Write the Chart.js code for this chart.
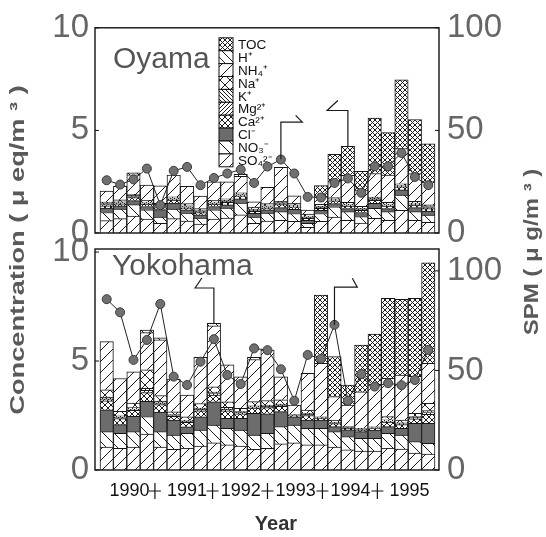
<!DOCTYPE html>
<html>
<head>
<meta charset="utf-8">
<script src="https://cdn.jsdelivr.net/npm/chart.js@4.4.1/dist/chart.umd.min.js"></script>
<style>
  html, body { margin: 0; padding: 0; background: #fff; }
  #wrap { position: relative; width: 546px; height: 537px; }
  #wrap canvas { position: absolute; left: 0; top: 0; }
</style>
</head>
<body>
<div id="wrap">
  <canvas id="oyama" width="546" height="537"></canvas>
  <canvas id="yokohama" width="546" height="537"></canvas>
</div>
<script>
// ion components, bottom of the stack first (ueq/m3)
const ionNames = ["SO₄²⁻", "NO₃⁻", "Cl⁻", "Ca²⁺", "Mg²⁺", "K⁺", "Na⁺", "NH₄⁺", "H⁺", "TOC"];

// Oyama samples
const oyamaSO4 = [0.60, 0.70, 0.83, 0.68, 0.47, 0.70, 0.58, 0.44, 0.68, 0.73, 0.88, 0.47, 0.58, 0.62, 0.57, 0.28, 0.57, 0.77, 0.62, 0.48, 0.72, 0.62, 1.11, 0.62, 0.52];
const oyamaNO3 = [0.40, 0.46, 0.55, 0.45, 0.31, 0.46, 0.39, 0.29, 0.45, 0.48, 0.58, 0.31, 0.39, 0.42, 0.38, 0.19, 0.38, 0.51, 0.42, 0.32, 0.48, 0.42, 0.74, 0.42, 0.35];
const oyamaCl = [0.21, 0.16, 0.20, 0.16, 0.36, 0.30, 0.16, 0.16, 0.16, 0.16, 0.20, 0.18, 0.16, 0.20, 0.20, 0.15, 0.15, 0.15, 0.15, 0.20, 0.25, 0.15, 0.25, 0.20, 0.20];
const oyamaCa = [0.12, 0.10, 0.15, 0.12, 0.10, 0.14, 0.10, 0.10, 0.12, 0.12, 0.15, 0.10, 0.10, 0.14, 0.12, 0.10, 0.10, 0.14, 0.12, 0.10, 0.14, 0.12, 0.15, 0.12, 0.12];
const oyamaMg = [0.05, 0.05, 0.05, 0.05, 0.05, 0.05, 0.05, 0.05, 0.05, 0.05, 0.05, 0.05, 0.05, 0.05, 0.05, 0.05, 0.05, 0.05, 0.05, 0.05, 0.05, 0.05, 0.05, 0.05, 0.05];
const oyamaK = [0.05, 0.05, 0.05, 0.05, 0.05, 0.05, 0.05, 0.05, 0.05, 0.05, 0.05, 0.05, 0.05, 0.05, 0.05, 0.05, 0.05, 0.05, 0.05, 0.05, 0.05, 0.05, 0.05, 0.05, 0.05];
const oyamaNa = [0.08, 0.10, 0.05, 0.08, 0.10, 0.06, 0.10, 0.10, 0.08, 0.08, 0.05, 0.10, 0.10, 0.06, 0.08, 0.10, 0.10, 0.06, 0.08, 0.10, 0.06, 0.08, 0.05, 0.08, 0.08];
const oyamaNH4 = [0.53, 0.66, 0.95, 0.74, 0.86, 1.06, 0.85, 0.61, 0.90, 0.82, 0.80, 0.26, 0.80, 1.66, 0.36, 0.20, 0.36, 0.77, 1.32, 0.79, 1.15, 1.33, 1.71, 1.35, 1.12];
const oyamaH = [0, 0, 0.10, 0, 0, 0, 0, 0, 0, 0, 0.10, 0, 0, 0, 0, 0, 0, 0, 0, 0, 0, 0, 0, 0, 0];
const oyamaTOC = [0, 0, 0, 0, 0, 0, 0, 0, 0, 0, 0, 0, 0, 0, 0, 0, 0.55, 1.33, 1.41, 0.92, 2.70, 2.07, 3.35, 2.64, 1.86];
const oyamaSPM = [25.7, 23.6, 26.1, 31.4, 13.6, 30.3, 32.2, 23.3, 26.8, 29.0, 30.9, 24.4, 32.4, 35.8, 29.0, 17.6, 17.3, 24.4, 26.6, 19.6, 32.5, 32.5, 39.0, 27.3, 23.3];

// Yokohama samples
const yokohamaSO4 = [1.05, 1.00, 1.05, 1.65, 1.05, 0.95, 1.00, 1.10, 1.25, 1.15, 1.10, 0.95, 1.00, 1.20, 1.25, 1.15, 1.15, 1.05, 0.92, 0.87, 0.87, 1.00, 0.96, 0.78, 0.73];
const yokohamaNO3 = [0.71, 0.68, 0.71, 0.80, 0.71, 0.65, 0.68, 0.73, 0.81, 0.76, 0.73, 0.65, 0.68, 0.79, 0.81, 0.76, 0.76, 0.71, 0.61, 0.58, 0.58, 0.68, 0.64, 0.52, 0.49];
const yokohamaCl = [1.00, 0.40, 0.70, 0.70, 0.90, 0.69, 0.30, 0.61, 1.07, 0.46, 0.54, 1.00, 0.90, 0.69, 0.38, 0.38, 0.38, 0.23, 0.31, 0.31, 0.38, 0.31, 0.31, 0.84, 0.92];
const yokohamaCa = [0.41, 0.28, 0.28, 0.40, 0.34, 0.17, 0.21, 0.28, 0.31, 0.34, 0.21, 0.24, 0.28, 0.24, 0.05, 0.21, 0.07, 0.14, 0.07, 0.07, 0.07, 0.21, 0.17, 0.21, 0.41];
const yokohamaMg = [0.09, 0.06, 0.06, 0.10, 0.08, 0.04, 0.05, 0.06, 0.07, 0.08, 0.05, 0.05, 0.06, 0.05, 0.02, 0.05, 0.02, 0.03, 0.02, 0.02, 0.02, 0.05, 0.04, 0.05, 0.09];
const yokohamaK = [0.09, 0.06, 0.06, 0.10, 0.08, 0.04, 0.05, 0.06, 0.07, 0.08, 0.05, 0.05, 0.06, 0.05, 0.02, 0.05, 0.02, 0.03, 0.02, 0.02, 0.02, 0.05, 0.04, 0.05, 0.09];
const yokohamaNa = [0.33, 0.21, 0.21, 0.85, 0.26, 0.13, 0.15, 0.21, 0.24, 0.26, 0.15, 0.20, 0.21, 0.20, 0.01, 0.15, 0.04, 0.10, 0.04, 0.04, 0.04, 0.15, 0.13, 0.15, 0.33];
const yokohamaNH4 = [2.21, 1.51, 1.44, 1.70, 2.55, 1.50, 1.00, 2.12, 2.79, 1.69, 1.45, 1.93, 2.31, 1.06, 0.44, 1.68, 2.46, 1.08, 0.99, 1.68, 1.92, 1.76, 2.07, 1.70, 1.83];
const yokohamaH = [0, 0, 0, 0.12, 0.10, 0, 0, 0, 0.12, 0, 0, 0.10, 0, 0, 0, 0, 0, 0, 0, 0, 0, 0, 0, 0, 0];
const yokohamaTOC = [0, 0, 0, 0, 0, 0, 0, 0, 0, 0, 0, 0, 0, 0, 0, 0, 3.13, 1.83, 0.92, 2.14, 2.34, 3.67, 3.47, 3.58, 4.62];
const yokohamaSPM = [85.8, 79.2, 55.3, 65.3, 83.4, 46.9, 42.7, 54.4, 65.7, 47.7, 43.2, 61.1, 60.2, 50.6, 34.8, 57.8, 55.9, 72.9, 34.8, 48.2, 41.9, 43.6, 42.6, 45.2, 60.3];

// year labels along the sample sequence, and where each year ends
const yearLabels = ["1990", "1991", "1992", "1993", "1994", "1995"];
const yearCentres = [1.7, 6.0, 10.0, 14.1, 18.2, 22.6];
const yearBreaks = [3.6, 7.9, 12.0, 16.1, 20.2];

// event markers: sample, start and end level (ueq/m3), run and hook in sample units
const oyamaMarks = [
  { at: 13, from: 3.59, to: 5.4, run: 1.6, hook: [-0.5, 0.33] },
  { at: 18, from: 4.22, to: 5.97, run: -1.55, hook: [0.8, 0.49] }
];
const yokohamaMarks = [
  { at: 8, from: 6.73, to: 8.35, run: -1.4, hook: [0.5, 0.46] },
  { at: 17, from: 6.65, to: 8.39, run: 1.7, hook: [-0.37, 0.41] }
];

const samples = oyamaSO4.map((_, i) => i);
const FONT = '"Liberation Sans", Arial, Helvetica, sans-serif';
Chart.defaults.font.family = FONT;

// hatch fills
const ink = "#1c1c1c";
function tile(size, draw, bg) {
  const c = document.createElement("canvas");
  c.width = c.height = size;
  const g = c.getContext("2d");
  g.fillStyle = bg || "#fff";
  g.fillRect(0, 0, size, size);
  g.strokeStyle = ink;
  g.lineWidth = 1;
  draw(g, size);
  return g.createPattern(c, "repeat");
}
function slash(g, s) {
  g.beginPath();
  g.moveTo(-1, s + 1); g.lineTo(s + 1, -1);
  g.moveTo(-1, 1); g.lineTo(1, -1);
  g.moveTo(s - 1, s + 1); g.lineTo(s + 1, s - 1);
  g.stroke();
}
function backslash(g, s) {
  g.beginPath();
  g.moveTo(-1, -1); g.lineTo(s + 1, s + 1);
  g.moveTo(s - 1, -1); g.lineTo(s + 1, 1);
  g.moveTo(-1, s - 1); g.lineTo(1, s + 1);
  g.stroke();
}
function cross(g, s) { slash(g, s); backslash(g, s); }

const ionFills = [
  tile(11, slash),              // SO4
  tile(11, backslash),          // NO3
  "#6c6c6c",                    // Cl
  tile(6, cross),               // Ca
  tile(4, slash),               // Mg
  tile(4, backslash),           // K
  tile(10, cross),              // Na
  tile(11, slash),              // NH4
  tile(9, backslash),           // H
  tile(5, cross)                // TOC
];

function barSets(series) {
  return series.map((data, k) => ({
    type: "bar",
    label: ionNames[k],
    data,
    backgroundColor: ionFills[k],
    borderColor: "#161616",
    borderWidth: 1,
    barPercentage: 1,
    categoryPercentage: 1,
    stack: "ions",
    yAxisID: "y",
    order: 1
  }));
}

function spmSet(data) {
  return {
    type: "line",
    label: "SPM",
    data,
    yAxisID: "y1",
    borderColor: "#222",
    borderWidth: 1,
    pointRadius: 4.5,
    pointBackgroundColor: "#707070",
    pointBorderColor: "#3c3c3c",
    pointBorderWidth: 1,
    tension: 0,
    order: 0
  };
}

const tickFont = { family: FONT, size: 33 };

// frame, markers, site name, legend and outer titles
const panelPlugin = {
  id: "panel",
  afterDatasetsDraw(chart, args, opts) {
    const { ctx, chartArea: a, scales } = chart;
    const x = scales.x, y = scales.y, y1 = scales.y1;
    ctx.save();

    ctx.strokeStyle = "#111";
    ctx.lineWidth = 1.4;
    ctx.strokeRect(a.left, a.top, a.right - a.left, a.bottom - a.top);
    ctx.lineWidth = 1;
    y.ticks.forEach(t => {
      const py = y.getPixelForValue(t.value);
      ctx.beginPath(); ctx.moveTo(a.left, py); ctx.lineTo(a.left + 4, py); ctx.stroke();
    });
    y1.ticks.forEach(t => {
      const py = y1.getPixelForValue(t.value);
      ctx.beginPath(); ctx.moveTo(a.right, py); ctx.lineTo(a.right - 4, py); ctx.stroke();
    });

    // event markers
    ctx.strokeStyle = "#1a1a1a";
    ctx.lineWidth = 1.2;
    (opts.marks || []).forEach(m => {
      const px = x.getPixelForValue(m.at);
      const top = y.getPixelForValue(m.to);
      ctx.beginPath();
      ctx.moveTo(px, y.getPixelForValue(m.from));
      ctx.lineTo(px, top);
      ctx.lineTo(x.getPixelForValue(m.at + m.run), top);
      ctx.lineTo(x.getPixelForValue(m.at + m.run + m.hook[0]), y.getPixelForValue(m.to + m.hook[1]));
      ctx.stroke();
    });

    // site name
    ctx.fillStyle = "#555";
    ctx.font = "30px " + FONT;
    ctx.textAlign = "left";
    ctx.textBaseline = "alphabetic";
    ctx.fillText(opts.site, a.left + opts.siteAt[0], a.top + opts.siteAt[1]);

    // legend column, TOC on top
    if (opts.legend) {
      const lx = a.left + 124, ly = a.top + 10, w = 14, h = 12.9;
      const sets = chart.data.datasets.filter(d => d.type === "bar").slice().reverse();
      ctx.font = "13.5px " + FONT;
      ctx.textBaseline = "middle";
      sets.forEach((d, k) => {
        const ty = ly + k * h;
        ctx.fillStyle = d.backgroundColor;
        ctx.fillRect(lx, ty, w, h);
        ctx.strokeStyle = "#111";
        ctx.lineWidth = 1;
        ctx.strokeRect(lx, ty, w, h);
        ctx.fillStyle = "#111";
        ctx.fillText(d.label, lx + w + 5, ty + h / 2 + 1);
      });
    }

    // shared axis titles and year labels
    if (opts.titles) {
      ctx.fillStyle = "#111";
      ctx.font = "18px " + FONT;
      ctx.textAlign = "center";
      ctx.textBaseline = "middle";
      const ly = a.bottom + 21;
      yearLabels.forEach((t, k) => ctx.fillText(t, x.getPixelForValue(yearCentres[k]), ly));
      ctx.strokeStyle = "#111";
      ctx.lineWidth = 1.2;
      yearBreaks.forEach(b => {
        const px = x.getPixelForValue(b);
        ctx.beginPath();
        ctx.moveTo(px, ly - 8); ctx.lineTo(px, ly + 8);
        ctx.moveTo(px - 6, ly); ctx.lineTo(px + 6, ly);
        ctx.stroke();
      });

      ctx.fillStyle = "#333";
      ctx.font = "bold 20px " + FONT;
      ctx.fillText("Year", (a.left + a.right) / 2 + 9, a.bottom + 54);

      ctx.fillStyle = "#5a5a5a";
      ctx.save();
      ctx.translate(18, 250);
      ctx.rotate(-Math.PI / 2);
      ctx.scale(1.36, 1);
      ctx.fillText("Concentration ( μ eq/m ³ )", 0, 0);
      ctx.restore();

      ctx.save();
      ctx.translate(532, 252);
      ctx.rotate(-Math.PI / 2);
      ctx.scale(1.2, 1);
      ctx.fillText("SPM ( μ g/m ³ )", 0, 0);
      ctx.restore();
    }
    ctx.restore();
  }
};

function panel(canvasId, series, spm, bounds, plug) {
  return new Chart(document.getElementById(canvasId), {
    data: { labels: samples, datasets: [...barSets(series), spmSet(spm)] },
    options: {
      responsive: false,
      devicePixelRatio: 1,
      animation: false,
      events: [],
      layout: { padding: { top: bounds.top, bottom: 537 - bounds.bottom, left: 0, right: 0 } },
      scales: {
        x: {
          type: "linear", display: false, offset: false, stacked: true,
          min: -0.873, max: 24.8
        },
        y: {
          type: "linear", position: "left", stacked: true, min: 0, max: bounds.yMax,
          afterBuildTicks: s => { s.ticks = [0, 5, 10].map(v => ({ value: v })); },
          afterFit: s => { s.width = 95; },
          grid: { display: false, drawTicks: false }, border: { display: false },
          ticks: { font: tickFont, color: "#666", padding: 6 }
        },
        y1: {
          type: "linear", position: "right", min: 0, max: bounds.y1Max,
          afterBuildTicks: s => { s.ticks = [0, 50, 100].map(v => ({ value: v })); },
          afterFit: s => { s.width = 107; },
          grid: { display: false, drawTicks: false }, border: { display: false },
          ticks: { font: tickFont, color: "#666", padding: 8 }
        }
      },
      plugins: { legend: { display: false }, tooltip: { enabled: false }, panel: plug }
    },
    plugins: [panelPlugin]
  });
}

panel("oyama",
  [oyamaSO4, oyamaNO3, oyamaCl, oyamaCa, oyamaMg, oyamaK, oyamaNa, oyamaNH4, oyamaH, oyamaTOC],
  oyamaSPM,
  { top: 27, bottom: 233, yMax: 10, y1Max: 100 },
  { site: "Oyama", siteAt: [18, 40], marks: oyamaMarks, legend: true, titles: false });

panel("yokohama",
  [yokohamaSO4, yokohamaNO3, yokohamaCl, yokohamaCa, yokohamaMg, yokohamaK, yokohamaNa, yokohamaNH4, yokohamaH, yokohamaTOC],
  yokohamaSPM,
  { top: 249, bottom: 470, yMax: 10.14, y1Max: 111 },
  { site: "Yokohama", siteAt: [17, 26], marks: yokohamaMarks, legend: false, titles: true });
</script>
</body>
</html>
